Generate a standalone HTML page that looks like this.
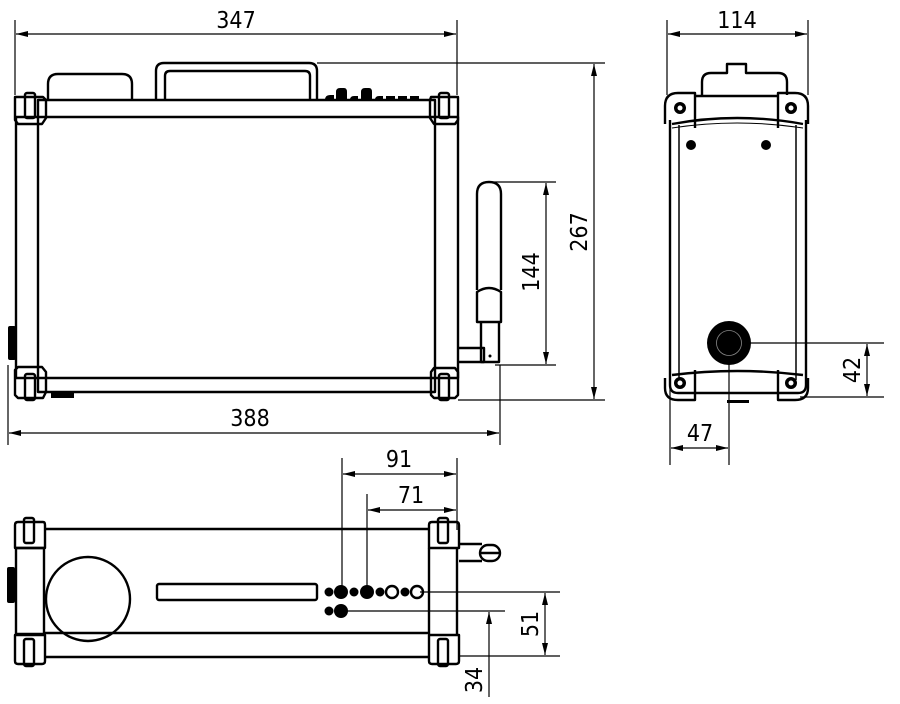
<!DOCTYPE html>
<html><head><meta charset="utf-8"><style>
html,body{margin:0;padding:0;background:#fff;}
svg{display:block}
text{font-family:"DejaVu Sans Condensed","DejaVu Sans","Liberation Sans",sans-serif;font-size:23px;fill:#000}
</style></head><body>
<svg width="900" height="704" viewBox="0 0 900 704" xmlns="http://www.w3.org/2000/svg">
<defs>
<marker id="a" viewBox="0 0 12 6" refX="12" refY="3" markerWidth="12" markerHeight="6" orient="auto-start-reverse" markerUnits="userSpaceOnUse"><path d="M0,0L12,3L0,6z" fill="#000"/></marker>
</defs>
<g fill="none" stroke="#000" stroke-width="1.2">
<line x1="15" y1="20" x2="15" y2="95"/><line x1="457" y1="20" x2="457" y2="95"/>
<line x1="16" y1="34" x2="456" y2="34" marker-start="url(#a)" marker-end="url(#a)"/>
<line x1="8" y1="365" x2="8" y2="445"/><line x1="500" y1="365" x2="500" y2="445"/>
<line x1="9" y1="433" x2="499" y2="433" marker-start="url(#a)" marker-end="url(#a)"/>
<line x1="317" y1="63" x2="605" y2="63"/><line x1="458" y1="400" x2="605" y2="400"/>
<line x1="594" y1="64" x2="594" y2="399" marker-start="url(#a)" marker-end="url(#a)"/>
<line x1="490" y1="182" x2="556" y2="182"/><line x1="495" y1="365" x2="556" y2="365"/>
<line x1="546" y1="183" x2="546" y2="364" marker-start="url(#a)" marker-end="url(#a)"/>
<line x1="667" y1="20" x2="667" y2="95"/><line x1="808" y1="20" x2="808" y2="95"/>
<line x1="668" y1="34" x2="807" y2="34" marker-start="url(#a)" marker-end="url(#a)"/>
<line x1="750" y1="343" x2="884" y2="343"/><line x1="800" y1="397" x2="884" y2="397"/>
<line x1="867" y1="344" x2="867" y2="396" marker-start="url(#a)" marker-end="url(#a)"/>
<line x1="670" y1="385" x2="670" y2="465"/><line x1="729" y1="350" x2="729" y2="465"/>
<line x1="671" y1="448" x2="728" y2="448" marker-start="url(#a)" marker-end="url(#a)"/>
<line x1="342" y1="458" x2="342" y2="592"/><line x1="367" y1="494" x2="367" y2="592"/><line x1="457" y1="458" x2="457" y2="530"/>
<line x1="343" y1="474" x2="456" y2="474" marker-start="url(#a)" marker-end="url(#a)"/>
<line x1="368" y1="510" x2="456" y2="510" marker-start="url(#a)" marker-end="url(#a)"/>
<line x1="420" y1="592" x2="560" y2="592"/><line x1="345" y1="611" x2="505" y2="611"/><line x1="459" y1="656" x2="560" y2="656"/>
<line x1="545" y1="593" x2="545" y2="655" marker-start="url(#a)" marker-end="url(#a)"/>
<line x1="489" y1="612" x2="489" y2="655" marker-start="url(#a)"/>
<line x1="489" y1="655" x2="489" y2="697"/>
</g>
<text x="236" y="28" text-anchor="middle">347</text>
<text x="250" y="426" text-anchor="middle">388</text>
<text x="737" y="28" text-anchor="middle">114</text>
<text x="700" y="441" text-anchor="middle">47</text>
<text x="399" y="467" text-anchor="middle">91</text>
<text x="411" y="503" text-anchor="middle">71</text>
<text transform="translate(587,232) rotate(-90)" text-anchor="middle">267</text>
<text transform="translate(539,272) rotate(-90)" text-anchor="middle">144</text>
<text transform="translate(860,370) rotate(-90)" text-anchor="middle">42</text>
<text transform="translate(538,624) rotate(-90)" text-anchor="middle">51</text>
<text transform="translate(482,680) rotate(-90)" text-anchor="middle">34</text>

<g fill="none" stroke="#000" stroke-width="2.4" stroke-linejoin="round">
<path d="M48,100 V84 Q48,74 58,74 H122 Q132,74 132,84 V100"/>
<path d="M156,100 V71 Q156,63 164,63 H309 Q317,63 317,71 V100"/>
<path d="M165,100 V76 Q165,71 170,71 H305 Q310,71 310,76 V100"/>
<rect x="38" y="100" width="397" height="17"/>
<rect x="38" y="378" width="397" height="14"/>
<rect x="16" y="117" width="22" height="261"/>
<rect x="435" y="117" width="23" height="261"/>
<path d="M15,97 H43 L46,100 V118 L42,124 H18 L15,120 Z"/>
<rect x="25" y="93" width="10" height="25" rx="2"/>
<path d="M431,97 H458 V120 L455,124 H434 L430,118 V100 Z"/>
<rect x="439" y="93" width="10" height="25" rx="2"/>
<path d="M15,370 L18,367 H42 L46,372 V392 L43,398 H18 L15,395 Z"/>
<rect x="25" y="374" width="10" height="26" rx="2"/>
<path d="M431,372 L434,368 H455 L458,372 V395 L455,398 H434 L431,395 Z"/>
<rect x="439" y="374" width="10" height="26" rx="2"/>
<path d="M477,290 V194 Q477,182 489,182 Q501,182 501,194 V290"/>
<path d="M477,292 Q489,284 501,292 V322 H477 Z"/>
<path d="M481,322 V362 H499 V322"/>
<path d="M458,348 H484 V362 H458"/>
</g>
<g fill="#000">
<rect x="8" y="326" width="8" height="34" rx="2"/>
<rect x="51" y="392" width="23" height="6"/>
<circle cx="490" cy="356" r="1.5"/>
<path d="M325,100 Q325,95 330,95 H334 V100Z"/>
<path d="M336,100 V92 Q336,88 340,88 H344 Q347,88 347,92 V100Z"/>
<path d="M350,100 Q350,96 354,96 H358 V100Z"/>
<path d="M361,100 V92 Q361,88 365,88 H369 Q372,88 372,92 V100Z"/>
<path d="M375,100 Q375,96 379,96 H383 V100Z"/>
<rect x="386" y="96" width="9" height="4"/><rect x="398" y="96" width="9" height="4"/><rect x="410" y="96" width="9" height="4"/>
</g>

<g fill="none" stroke="#000" stroke-width="2.4" stroke-linejoin="round">
<path d="M702,95 V82 Q702,73 711,73 H727 V64 H746 V73 H778 Q787,73 787,82 V95"/>
<path d="M670,120 V385 Q670,393 678,393 H798 Q806,393 806,385 V120"/>
<line x1="679" y1="125" x2="679" y2="380" stroke-width="1.5"/>
<line x1="796" y1="125" x2="796" y2="380" stroke-width="1.5"/>
<path d="M665,124 V106 Q665,93 678,93 H695 V128"/>
<path d="M808,124 V106 Q808,93 795,93 H778 V128"/>
<path d="M695,96 H778"/>
<path d="M672,124 Q737,112 803,124"/>
<path d="M672,128 Q737,118 803,128" stroke-width="1"/>
<path d="M672,375 Q737,367 803,375"/>
<path d="M665,378 V388 Q665,400 678,400 H695 V370"/>
<path d="M808,378 V388 Q808,400 795,400 H778 V370"/>
</g>
<g>
<circle cx="680" cy="108" r="6"/><circle cx="680" cy="108" r="2.5" fill="#fff"/>
<circle cx="791" cy="108" r="6"/><circle cx="791" cy="108" r="2.5" fill="#fff"/>
<circle cx="680" cy="383" r="6"/><circle cx="680" cy="383" r="2.5" fill="#fff"/>
<circle cx="791" cy="383" r="6"/><circle cx="791" cy="383" r="2.5" fill="#fff"/>
<circle cx="691" cy="145" r="5"/><circle cx="766" cy="145" r="5"/>
<circle cx="729" cy="343" r="22"/>
<circle cx="729" cy="343" r="12.5" fill="none" stroke="#888" stroke-width="0.8"/>
<rect x="727" y="400" width="22" height="3"/>
</g>

<g fill="none" stroke="#000" stroke-width="2.4" stroke-linejoin="round">
<line x1="45" y1="529" x2="429" y2="529"/>
<line x1="45" y1="633" x2="429" y2="633"/>
<line x1="45" y1="657" x2="429" y2="657"/>
<rect x="16" y="548" width="28" height="86"/>
<path d="M429,548 V634 M457,548 V634"/>
<path d="M15,525 Q15,522 18,522 H43 Q45,522 45,525 V548 H15 Z"/>
<rect x="24" y="518" width="10" height="25" rx="2"/>
<path d="M15,635 H45 V661 Q45,664 42,664 H18 Q15,664 15,661 Z"/>
<rect x="24" y="639" width="10" height="27" rx="2"/>
<path d="M429,525 Q429,522 432,522 H456 Q459,522 459,525 V548 H429 Z"/>
<rect x="438" y="518" width="10" height="25" rx="2"/>
<path d="M429,635 H459 V661 Q459,664 456,664 H432 Q429,664 429,661 Z"/>
<rect x="438" y="639" width="10" height="27" rx="2"/>
<ellipse cx="88" cy="599" rx="42" ry="42"/>
<rect x="157" y="584" width="160" height="16" rx="2"/>
<path d="M459,544 H482 M459,561 H482"/>
<rect x="480" y="545" width="20" height="16" rx="8"/>
<line x1="480" y1="553" x2="500" y2="553"/>
<circle cx="392" cy="592" r="6"/>
<circle cx="417" cy="592" r="6"/>
</g>
<g fill="#000">
<rect x="7" y="567" width="8" height="36" rx="2"/>
<circle cx="329" cy="592" r="4.5"/><circle cx="341" cy="592" r="7"/>
<circle cx="354" cy="592" r="4.5"/><circle cx="367" cy="592" r="7"/>
<circle cx="380" cy="592" r="4.5"/><circle cx="405" cy="592" r="4.5"/>
<circle cx="329" cy="611" r="4.5"/><circle cx="341" cy="611" r="7"/>
</g>
</svg>
</body></html>
